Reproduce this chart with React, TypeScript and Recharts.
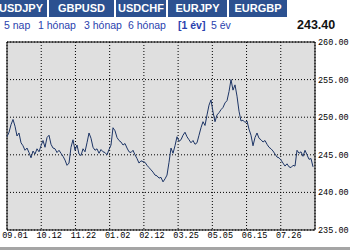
import { LineChart, Line, XAxis, YAxis, CartesianGrid, ReferenceArea } from 'recharts';

// header contents
const tabs = ['USDJPY', 'GBPUSD', 'USDCHF', 'EURJPY', 'EURGBP'];
const periods = ['5 nap', '1 hónap', '3 hónap', '6 hónap', '[1 év]', '5 év'];
const activePeriod = '[1 év]';
const lastPrice = '243.40';

// axis labels
const dateLabels = ['09.01', '10.12', '11.22', '01.02', '02.12', '03.25', '05.05', '06.15', '07.26'];
const priceTicks = [235, 240, 245, 250, 255, 260];

// closing prices
const prices = [
    247.4, 248.0, 249.0, 249.7, 248.8, 247.5, 247.9, 246.6, 246.2, 245.6,
    245.9, 245.3, 244.6, 245.5, 245.1, 245.8, 245.4, 246.2, 246.9, 246.0,
    247.3, 247.6, 246.4, 245.9, 245.8, 245.3, 245.6, 245.2, 244.8, 244.3,
    243.6, 243.9, 246.0, 247.0, 245.6, 246.3, 245.1, 244.9, 245.8, 245.4,
    246.6, 247.9, 247.2, 246.0, 245.6, 245.8, 245.2, 245.7, 245.4, 245.3,
    245.0, 245.7, 246.3, 248.6, 248.2, 247.3, 246.9, 246.7, 246.3, 246.5,
    245.9, 245.4, 245.3, 245.6, 245.0, 244.5, 243.9, 244.2, 244.1, 244.0,
    243.6, 243.3, 243.0, 242.7, 242.3, 242.2, 241.9, 242.0, 241.4, 241.8,
    242.3, 244.0, 245.9, 245.2, 246.2, 247.4, 246.8, 247.0, 247.6, 248.0,
    247.4, 247.0, 246.6, 246.9, 246.4, 246.6, 247.6, 248.6, 249.4, 248.9,
    250.3, 251.6, 252.3, 250.7, 249.4, 250.3, 250.6, 251.0, 251.3, 251.9,
    252.2, 253.4, 255.0, 253.6, 254.3, 252.8, 250.8, 249.5, 249.6, 249.3,
    249.5, 248.4, 247.6, 246.2, 247.3, 247.9, 247.2, 247.0, 246.7, 246.9,
    246.4, 246.0, 245.8, 245.5, 245.1, 244.7, 244.6, 244.3, 243.9, 243.5,
    243.8, 243.4, 243.3, 243.6, 243.5, 245.6, 245.2, 245.4, 244.8, 245.6,
    245.0, 244.4, 244.5, 243.4,
];

const data = prices.map((p, i) => ({ i, p }));
const xEnd = prices.length;
const step = xEnd / dateLabels.length;
const dateTicks = dateLabels.map((_, k) => k * step);

const tabLefts = [-5, 49, 116, 168, 229];
const tabRights = [47, 114, 166, 227, 287];
const periodLefts = [4, 38, 84, 128, 178, 211];

const monoFont = '"Liberation Mono", "DejaVu Sans Mono", monospace';

const DateTick = (props: any) => {
    const { x, y, payload } = props;
    const k = Math.round(payload.value / step);
    return (
        <text x={x + 8} y={y} dy={6} textAnchor="middle" fontSize={8.5} fontFamily={monoFont} fill="#000">
            {dateLabels[k]}
        </text>
    );
};

export default function App() {
    return (
        <div style={{ position: 'absolute', left: 0, top: 0, width: 350, height: 250, background: '#fff', overflow: 'hidden', fontFamily: '"Liberation Sans", Arial, sans-serif' }}>
            {tabs.map((t, k) => (
                <div
                    key={t}
                    style={{
                        position: 'absolute',
                        left: tabLefts[k],
                        top: 0,
                        width: tabRights[k] - tabLefts[k],
                        height: 17,
                        background: '#2c5190',
                        color: '#fff',
                        fontWeight: 'bold',
                        fontSize: 11,
                        lineHeight: '17px',
                        textAlign: 'center',
                    }}
                >
                    {t}
                </div>
            ))}
            {periods.map((p, k) => (
                <div
                    key={p}
                    style={{
                        position: 'absolute',
                        left: periodLefts[k],
                        top: 18,
                        fontSize: 10.5,
                        lineHeight: '14px',
                        color: '#2a3fae',
                        fontWeight: p === activePeriod ? 'bold' : 'normal',
                        whiteSpace: 'nowrap',
                    }}
                >
                    {p}
                </div>
            ))}
            <div style={{ position: 'absolute', left: 297, top: 18, fontSize: 12.5, lineHeight: '14px', fontWeight: 'bold', color: '#111' }}>
                {lastPrice}
            </div>
            <div style={{ position: 'absolute', left: 0, top: 0 }}>
                <LineChart width={350} height={248} data={data} margin={{ top: 42, right: 0, left: 7, bottom: 0 }}>
                    <CartesianGrid fill="#dfdfdf" stroke="#000" strokeDasharray="1 2" />
                    <XAxis
                        dataKey="i"
                        type="number"
                        domain={[0, xEnd]}
                        ticks={dateTicks}
                        height={18}
                        axisLine={false}
                        tickLine={false}
                        tickSize={0}
                        tickMargin={2}
                        tick={DateTick}
                        interval={0}
                    />
                    <YAxis
                        orientation="right"
                        domain={[235, 260]}
                        ticks={priceTicks}
                        width={35}
                        axisLine={false}
                        tickLine={false}
                        tickSize={0}
                        tickMargin={3}
                        tickFormatter={(v: number) => v.toFixed(2)}
                        tick={{ fontSize: 8.5, fontFamily: monoFont, fill: '#000' }}
                        interval={0}
                    />
                    <Line type="linear" dataKey="p" stroke="#1d3566" strokeWidth={1} dot={false} isAnimationActive={false} />
                    <ReferenceArea x1={0} x2={xEnd} y1={235} y2={260} fill="none" stroke="#000" strokeWidth={1} />
                </LineChart>
            </div>
            <div style={{ position: 'absolute', left: 0, top: 247, width: 350, height: 3, background: '#a5a5a5' }} />
        </div>
    );
}
